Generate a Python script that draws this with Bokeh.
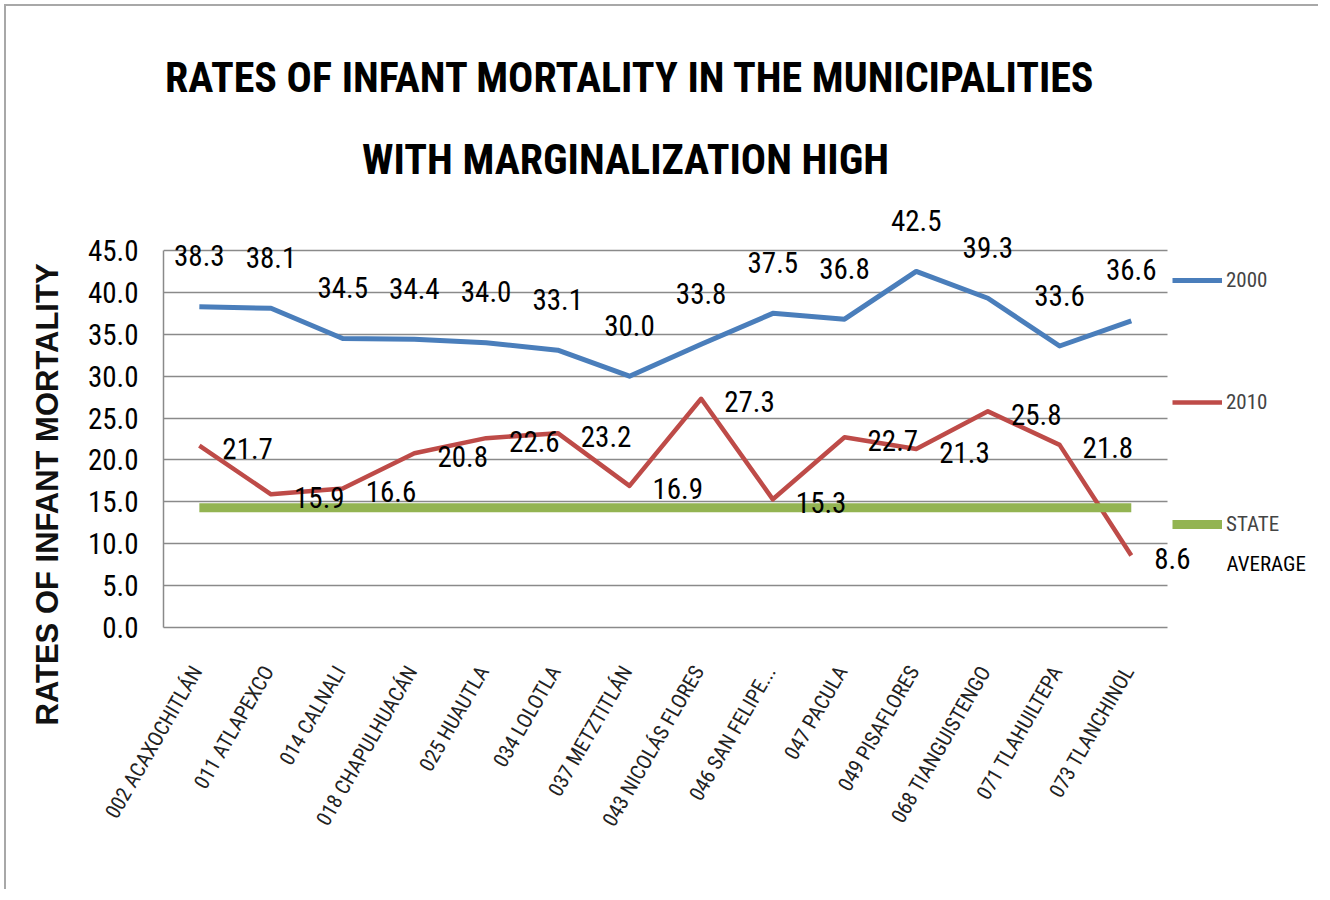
import math
from bokeh.plotting import figure
from bokeh.models import (FactorRange, Range1d, ColumnDataSource, LabelSet, Label, Title, Grid,
                          Legend, LegendItem, FixedTicker, NumeralTickFormatter)
from bokeh.core.properties import value
from bokeh.embed import file_html
from bokeh.resources import INLINE

# ---- data ----
municipalities = ["002  ACAXOCHITLÁN", "011  ATLAPEXCO", "014  CALNALI", "018  CHAPULHUACÁN",
                  "025  HUAUTLA", "034  LOLOTLA", "037  METZTITLÁN", "043  NICOLÁS FLORES",
                  "046  SAN FELIPE...", "047  PACULA", "049  PISAFLORES", "068  TIANGUISTENGO",
                  "071  TLAHUILTEPA", "073  TLANCHINOL"]
rate_2000 = [38.3, 38.1, 34.5, 34.4, 34.0, 33.1, 30.0, 33.8, 37.5, 36.8, 42.5, 39.3, 33.6, 36.6]
rate_2010 = [21.7, 15.9, 16.6, 20.8, 22.6, 23.2, 16.9, 27.3, 15.3, 22.7, 21.3, 25.8, 21.8, 8.6]
state_average = [14.3] * len(municipalities)
y_ticks = [0, 5, 10, 15, 20, 25, 30, 35, 40, 45]
series_names = ["2000", "2010", "STATE", "AVERAGE"]
title_lines = ["RATES OF INFANT MORTALITY IN THE MUNICIPALITIES", "WITH MARGINALIZATION HIGH"]
y_title = "RATES OF INFANT MORTALITY"

# empty slots to the right of the categories, room for the legend
spacers = [" ", "  "]

source = ColumnDataSource(dict(
    m=municipalities,
    r2000=rate_2000,
    r2010=rate_2010,
    avg=state_average,
    t2000=[f"{v:.1f}" for v in rate_2000],
    t2010=[f"{v:.1f}" for v in rate_2010],
))

COND = "Roboto Condensed, DejaVu Sans Condensed, Liberation Sans Narrow, Liberation Sans"
BLUE = "#4A7EBB"
RED = "#BE4B48"
GREEN = "#93B452"
GRID = "#8a8a8a"

N = len(municipalities)
FRAME_W = 1147
FRAME_H = 615
PLOT_H = 377            # pixel height of the 0..45 band
y_top = max(y_ticks) * FRAME_H / PLOT_H

p = figure(x_range=FactorRange(*municipalities, *spacers), y_range=Range1d(0, y_top),
           frame_width=FRAME_W, frame_height=FRAME_H,
           output_backend="svg", toolbar_location=None,
           min_border_left=157, min_border_right=8, min_border_top=6, min_border_bottom=262)
p.styles = {"margin-top": "4px", "margin-left": "4px",
            "border-top": "2px solid #a8a8a8", "border-left": "2px solid #a8a8a8"}
p.outline_line_color = None
p.background_fill_color = "white"
p.border_fill_color = "white"

# axes
p.yaxis.ticker = FixedTicker(ticks=y_ticks)
p.yaxis.bounds = (0, max(y_ticks))
p.yaxis.formatter = NumeralTickFormatter(format="0.0")
p.yaxis.major_label_text_font = COND
p.yaxis.major_label_text_font_size = "29px"
p.yaxis.major_label_text_color = "black"
p.yaxis.major_tick_line_color = None
p.yaxis.minor_tick_line_color = None
p.yaxis.axis_line_color = GRID
p.yaxis.axis_line_width = 1.5
p.yaxis.major_label_standoff = 19

p.xaxis.bounds = (0, N)
p.xaxis.major_label_orientation = math.pi / 3
p.xaxis.major_label_text_font = COND
p.xaxis.major_label_text_font_size = "21px"
p.xaxis.major_label_text_color = "#222222"
p.xaxis.major_tick_line_color = None
p.xaxis.axis_line_color = GRID
p.xaxis.axis_line_width = 1.5
p.xaxis.major_label_standoff = 30

p.xgrid.grid_line_color = None
p.ygrid.grid_line_color = GRID
p.ygrid.grid_line_width = 1.5
if "cross_bounds" in Grid.properties():
    p.ygrid.cross_bounds = (0, N)
else:
    p.ygrid.grid_line_color = None
    p.segment(x0=[0] * len(y_ticks), x1=[N] * len(y_ticks), y0=y_ticks, y1=y_ticks,
              line_color=GRID, line_width=1.5)

# series
l2000 = p.line(x="m", y="r2000", source=source, line_color=BLUE, line_width=5, line_join="round")
l2010 = p.line(x="m", y="r2010", source=source, line_color=RED, line_width=4.5, line_join="round")
lavg = p.line(x="m", y="avg", source=source, line_color=GREEN, line_width=9)

# data labels
p.add_layout(LabelSet(x="m", y="r2000", text="t2000", source=source, text_align="center",
                      text_baseline="middle", y_offset=51, text_font=value(COND),
                      text_font_size="29px", text_color="black"))
p.add_layout(LabelSet(x="m", y="r2010", text="t2010", source=source, text_align="left",
                      text_baseline="middle", x_offset=23, y_offset=-3, text_font=value(COND),
                      text_font_size="29px", text_color="black"))

# chart title (inside the tall frame; screen units measured from the frame's bottom-left)
p.add_layout(Label(x=467, y=550, x_units="screen", y_units="screen", text=title_lines[0],
                   text_align="center", text_baseline="middle", text_font=COND,
                   text_font_style="bold", text_font_size="42px", text_color="black"))
p.add_layout(Label(x=462, y=468, x_units="screen", y_units="screen", text=title_lines[1],
                   text_align="center", text_baseline="middle", text_font=COND,
                   text_font_style="bold", text_font_size="42px", text_color="black"))

# vertical axis title
p.add_layout(Title(text=y_title, align="left", offset=-98, standoff=40,
                   text_font="Liberation Sans", text_font_style="bold",
                   text_font_size="31px", text_color="#111111"), "left")

# legend
legend = Legend(items=[LegendItem(label=series_names[0], renderers=[l2000]),
                       LegendItem(label=series_names[1], renderers=[l2010]),
                       LegendItem(label=series_names[2], renderers=[lavg])],
                location=(1009, 90), padding=0, margin=0, spacing=96,
                glyph_width=50, glyph_height=26, label_height=26, label_standoff=4,
                label_text_font=COND, label_text_font_size="21px",
                background_fill_alpha=0, border_line_alpha=0)
p.add_layout(legend)
p.add_layout(Label(x=1063, y=64, x_units="screen", y_units="screen", text=series_names[3],
                   text_align="left", text_baseline="middle", text_font=COND,
                   text_font_size="21px", text_color="black"))

open("out.html", "w").write(file_html(p, INLINE))
